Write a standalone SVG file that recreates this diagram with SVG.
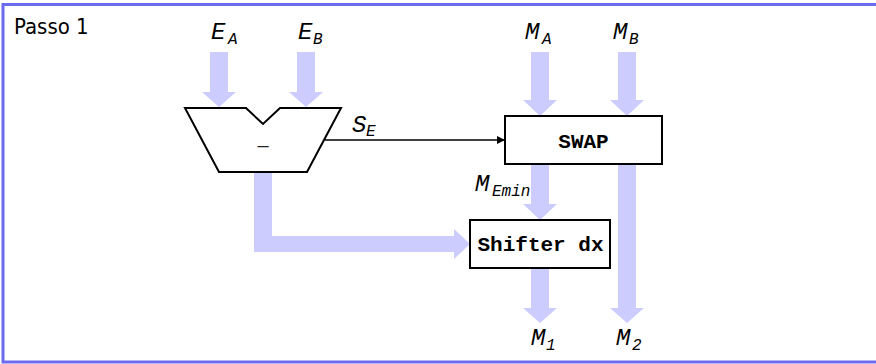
<svg xmlns="http://www.w3.org/2000/svg" width="876" height="364" viewBox="0 0 876 364">
<style>
.frame{fill:#fff;stroke:#6b6bf0;stroke-width:3}
.bus{fill:#ccccff;stroke:none}
.box{fill:#fff;stroke:#000;stroke-width:2}
.alu{fill:#fff;stroke:#000;stroke-width:2;stroke-linejoin:miter}
.sig{fill:none;stroke:#000;stroke-width:1.3}
.lbl{font-family:"Liberation Mono","Courier New",monospace;font-style:italic;font-size:24px;fill:#000}
.sub{font-size:16px}
.blk{font-family:"Liberation Mono","Courier New",monospace;font-weight:bold;font-size:21px;fill:#000;text-anchor:middle}
.title{font-family:"DejaVu Sans Condensed","DejaVu Sans",sans-serif;font-stretch:condensed;font-size:22px;fill:#000}
</style>
<defs>
<marker id="ah" viewBox="0 0 10 10" refX="10" refY="5" markerWidth="8" markerHeight="8" markerUnits="userSpaceOnUse" orient="auto">
<path d="M0,0 L10,5 L0,10 z" fill="#000"/>
</marker>
</defs>
<rect class="frame" x="3" y="4.5" width="880" height="357.5"/>
<text class="title" x="14" y="34">Passo 1</text>

<g id="connectors">
<polygon id="bus-EA" class="bus" points="210,52 228,52 228,92 236,92 219,107 202,92 210,92"/>
<polygon id="bus-EB" class="bus" points="297,52 315,52 315,92 323,92 306,107 289,92 297,92"/>
<polygon id="bus-MA" class="bus" points="531,52 549,52 549,100 557,100 540,116 523,100 531,100"/>
<polygon id="bus-MB" class="bus" points="618,52 636,52 636,100 644,100 627,116 610,100 618,100"/>
<polygon id="bus-Memin" class="bus" points="531,164 549,164 549,204 557,204 540,220 523,204 531,204"/>
<polygon id="bus-M1" class="bus" points="531,268 549,268 549,308 557,308 540,323 523,308 531,308"/>
<polygon id="bus-M2" class="bus" points="618,164 636,164 636,308 644,308 627,323 610,308 618,308"/>
<polygon id="bus-diff" class="bus" points="254,172 272,172 272,236 454,236 454,229 470,244 454,259 454,252 254,252"/>
<line id="sig-SE" class="sig" x1="325" y1="140" x2="505" y2="140" marker-end="url(#ah)"/>
</g>

<g id="sub">
<polygon class="alu" points="185,108 246,108 263,124 280,108 341,108 307,172 219,172"/>
<text x="263" y="152" font-family="Liberation Sans, Arial, sans-serif" font-size="20" text-anchor="middle" fill="#222">–</text>
</g>

<g id="swap">
<rect class="box" x="505" y="116" width="157" height="48"/>
<text class="blk" x="583.5" y="148">SWAP</text>
</g>

<g id="shifter">
<rect class="box" x="470" y="220" width="140" height="48"/>
<text class="blk" x="540.5" y="251">Shifter dx</text>
</g>

<g id="labels">
<text class="lbl" x="211" y="39">E<tspan class="sub" x="228" y="44">A</tspan></text>
<text class="lbl" x="298" y="39">E<tspan class="sub" x="313" y="44">B</tspan></text>
<text class="lbl" x="525" y="39">M<tspan class="sub" x="542" y="44">A</tspan></text>
<text class="lbl" x="613" y="39">M<tspan class="sub" x="629" y="44">B</tspan></text>
<text class="lbl" x="352" y="132">S<tspan class="sub" x="366" y="136">E</tspan></text>
<text class="lbl" x="475" y="191">M<tspan class="sub" x="492" y="196">Emin</tspan></text>
<text class="lbl" x="531" y="345">M<tspan class="sub" x="546" y="350">1</tspan></text>
<text class="lbl" x="616" y="345">M<tspan class="sub" x="632" y="350">2</tspan></text>
</g>
</svg>
